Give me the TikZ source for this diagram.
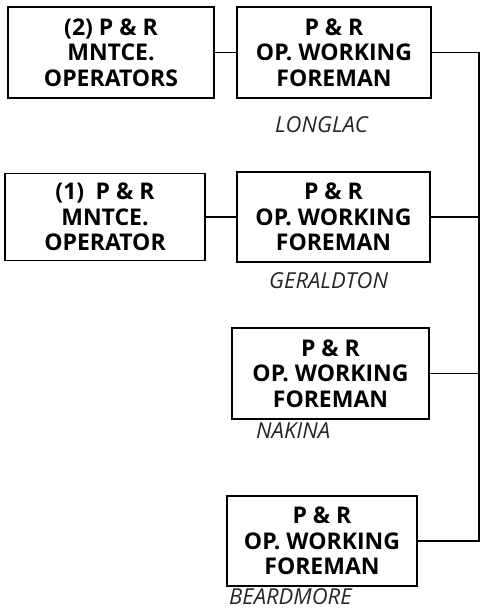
\documentclass[tikz,border=0pt]{standalone}
\usepackage{fontspec}
\setmainfont{Open Sans}
\usetikzlibrary{positioning}

\tikzset{
    post/.style={draw, line width=1.6pt, align=center, font=\fontsize{23}{25.5}\selectfont\bfseries, inner sep=0pt},
    town/.style={anchor=base west, inner sep=0pt, text depth=0pt, font=\fontsize{22}{24}\selectfont\itshape, text=black!85},
    link/.style={line width=1.4pt}
}

\begin{document}
\begin{tikzpicture}[x=1pt, y=-1pt]
    \useasboundingbox (0,0) rectangle (483,611);
    % operators on the left
    \node[post, minimum width=206pt, minimum height=91pt] (mntceA) at (111,52.5) {(2) P \& R\\MNTCE.\\OPERATORS};
    \node[post, minimum width=200pt, minimum height=87pt] (mntceB) at (105,217) {(1)\enspace P \& R\\MNTCE.\\OPERATOR};
    % working foremen
    \node[post, minimum width=194pt, minimum height=91pt] (longlac) at (334,52.5) {P \& R\\OP. WORKING\\FOREMAN};
    \node[post, minimum width=193pt, minimum height=90pt] (geraldton) at (333.5,217) {P \& R\\OP. WORKING\\FOREMAN};
    \node[post, minimum width=197pt, minimum height=91pt] (nakina) at (330.5,373.5) {P \& R\\OP. WORKING\\FOREMAN};
    \node[post, minimum width=190pt, minimum height=90pt] (beardmore) at (322,541) {P \& R\\OP. WORKING\\FOREMAN};
    % place names
    \node[town] (longlacName) at (275,132) {LONGLAC};
    \node[town] (geraldtonName) at (269,288) {GERALDTON};
    \node[town] (nakinaName) at (256,438) {NAKINA};
    \node[town] (beardmoreName) at (229,604.5) {BEARDMORE};
    % trunk line
    \coordinate (trunkTop) at (479,52.5);
    \coordinate (trunkBot) at (479,541);
    \draw[link] (longlac.east) -- (trunkTop) -- (trunkBot) -- (beardmore.east);
    \draw[link] (geraldton.east) -- (geraldton.east -| trunkTop);
    \draw[link] (nakina.east) -- (nakina.east -| trunkTop);
    % operators to foremen
    \draw[link] (mntceA.east) -- (longlac.west);
    \draw[line width=2.8pt] (mntceB.east) -- (geraldton.west);
\end{tikzpicture}
\end{document}
